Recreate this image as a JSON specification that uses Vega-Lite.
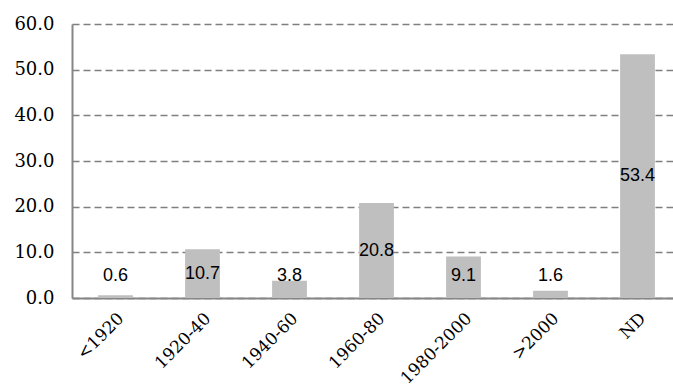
{
  "$schema": "https://vega.github.io/schema/vega-lite/v6.json",
  "autosize": "none",
  "width": 609,
  "height": 274,
  "padding": {"left": 72, "top": 24, "right": 0, "bottom": 87},
  "background": "white",
  "config": {"view": {"stroke": null}},
  "data": {"values": [
    {"period": "<1920", "value": 0.6},
    {"period": "1920-40", "value": 10.7},
    {"period": "1940-60", "value": 3.8},
    {"period": "1960-80", "value": 20.8},
    {"period": "1980-2000", "value": 9.1},
    {"period": ">2000", "value": 1.6},
    {"period": "ND", "value": 53.4}
  ]},
  "transform": [{"calculate": "max(datum.value / 2, 4.9)", "as": "labelPos"}],
  "encoding": {
    "x": {
      "field": "period", "type": "nominal", "sort": null,
      "scale": {"paddingInner": 0.6, "paddingOuter": 0.3},
      "axis": {
        "title": null, "labelAngle": -45, "labelFont": "DejaVu Serif", "labelFontSize": 17,
        "labelFontWeight": "normal",
        "labelColor": "black", "ticks": false, "labelPadding": 12, "domain": true,
        "domainColor": "#868686", "domainWidth": 2, "grid": false
      }
    }
  },
  "layer": [
    {
      "mark": {"type": "bar", "color": "#bfbfbf"},
      "encoding": {
        "y": {
          "field": "value", "type": "quantitative",
          "scale": {"domain": [0, 60]},
          "axis": {
            "title": null, "values": [0, 10, 20, 30, 40, 50, 60], "format": ".1f",
            "labelFont": "DejaVu Serif", "labelFontSize": 18, "labelColor": "black",
            "labelFontWeight": "normal",
            "ticks": false, "labelPadding": 18, "domainColor": "#868686", "domainWidth": 2,
            "grid": true, "gridColor": "#7f7f7f", "gridDash": [7, 4], "gridWidth": 1.5
          }
        }
      }
    },
    {
      "mark": {"type": "text", "font": "Liberation Sans", "fontSize": 18, "color": "black", "baseline": "middle"},
      "encoding": {
        "y": {"field": "labelPos", "type": "quantitative"},
        "text": {"field": "value", "type": "quantitative", "format": ".1f"}
      }
    }
  ]
}
